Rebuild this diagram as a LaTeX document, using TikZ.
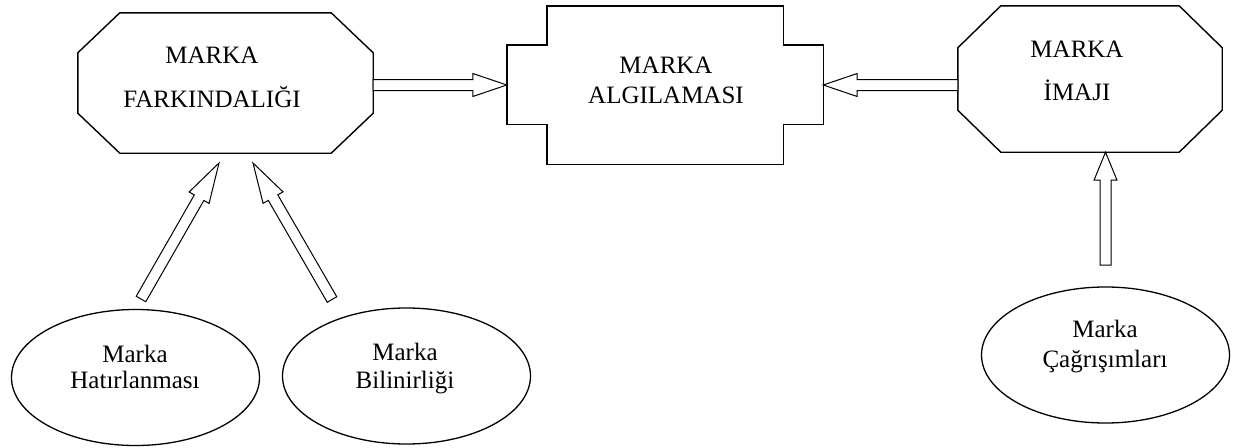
\documentclass[tikz,border=0pt]{standalone}
\usepackage{fontspec}
\setmainfont{Liberation Serif}
\usetikzlibrary{calc,shapes.geometric}

% two-line label, first baseline at the node's base anchor
\newcommand\twolines[3]{{\fontsize{25}{#1}\selectfont\setlength\tabcolsep{0pt}%
  \begin{tabular}[t]{c}#2\\#3\end{tabular}}}

% hollow block arrow from a tail coordinate to a tip coordinate
\newcommand\blockarrow[3][34]{%
  \coordinate (#2-#3-b) at ($(#3)!#1pt!(#2)$);
  \draw[arrowline]
    ($(#2)!5.5pt!90:(#3)$) -- ($(#2-#3-b)!5.5pt!-90:(#2)$)
    -- ($(#2-#3-b)!11.5pt!-90:(#2)$) -- (#3)
    -- ($(#2-#3-b)!11.5pt!90:(#2)$) -- ($(#2-#3-b)!5.5pt!90:(#2)$)
    -- ($(#2)!5.5pt!-90:(#3)$) -- cycle;}

\begin{document}
\begin{tikzpicture}[x=1pt,y=-1pt,
  frame/.style={draw=none,rectangle,inner sep=0pt},
  outline/.style={draw=black,line width=1.4pt,line join=miter},
  arrowline/.style={draw=black,fill=white,line width=1pt,line join=miter},
  oval/.style={draw=black,line width=1.3pt,ellipse,inner sep=0pt,
    minimum width=248pt,minimum height=136pt},
  label/.style={anchor=base,inner sep=0pt}]
\useasboundingbox (0,0) rectangle (1233,447);

% top row frames
\node[frame,minimum width=295pt,minimum height=140pt] (fark) at (225.5,83) {};
\node[frame,minimum width=316pt,minimum height=158pt] (algi) at (665,85) {};
\node[frame,minimum width=264pt,minimum height=146pt] (imaj) at (1090,79) {};

% octagon: brand awareness
\draw[outline]
  ([xshift=42pt]fark.north west) -- ([xshift=-42pt]fark.north east)
  -- ([yshift=-40pt]fark.north east) -- ([yshift=40pt]fark.south east)
  -- ([xshift=-42pt]fark.south east) -- ([xshift=42pt]fark.south west)
  -- ([yshift=40pt]fark.south west) -- ([yshift=-40pt]fark.north west) -- cycle;

% notched box: brand perception
\draw[outline]
  ([xshift=40pt]algi.north west) -- ([xshift=-40pt]algi.north east)
  -- ([xshift=-40pt,yshift=-39pt]algi.north east) -- ([yshift=-39pt]algi.north east)
  -- ([yshift=40pt]algi.south east) -- ([xshift=-40pt,yshift=40pt]algi.south east)
  -- ([xshift=-40pt]algi.south east) -- ([xshift=40pt]algi.south west)
  -- ([xshift=40pt,yshift=40pt]algi.south west) -- ([yshift=40pt]algi.south west)
  -- ([yshift=-39pt]algi.north west) -- ([xshift=40pt,yshift=-39pt]algi.north west)
  -- cycle;

% octagon: brand image
\draw[outline]
  ([xshift=43pt]imaj.north west) -- ([xshift=-43pt]imaj.north east)
  -- ([yshift=-42pt]imaj.north east) -- ([yshift=42pt]imaj.south east)
  -- ([xshift=-43pt]imaj.south east) -- ([xshift=43pt]imaj.south west)
  -- ([yshift=42pt]imaj.south west) -- ([yshift=-42pt]imaj.north west) -- cycle;

% labels of the top row
\node[label] (fark-t) at (212,63) {\twolines{44}{MARKA}{FARKINDALIĞI}};
\node[label] (algi-t) at (666,73) {\twolines{30}{MARKA}{ALGILAMASI}};
\node[label] (imaj-t) at (1077,57) {\twolines{43}{MARKA}{İMAJI}};

% bottom ovals
\node[oval] (hat) at (135.5,377.5) {};
\node[oval] (bil) at (406.5,376) {};
\node[oval] (cag) at (1105.5,355) {};
\node[label] (hat-t) at (135,362) {\twolines{26}{Marka}{Hatırlanması}};
\node[label] (bil-t) at (405,360) {\twolines{28}{Marka}{Bilinirliği}};
\node[label] (cag-t) at (1105,337) {\twolines{30}{Marka}{Çağrışımları}};

% arrow ends
\coordinate (a1s) at (fark.east |- algi.west);
\coordinate (a1e) at (algi.west);
\coordinate (a2s) at (imaj.west |- algi.east);
\coordinate (a2e) at (algi.east);
\coordinate (a3s) at (cag.north |- 0,265);
\coordinate (a3e) at (cag.north |- imaj.south);
\coordinate (a4s) at (141,299);
\coordinate (a4e) at (219,163);
\coordinate (a5s) at (332,299.5);
\coordinate (a5e) at (253,163);

\blockarrow{a1s}{a1e}
\blockarrow{a2s}{a2e}
\blockarrow[28]{a3s}{a3e}
\blockarrow[40]{a4s}{a4e}
\blockarrow[40]{a5s}{a5e}
\end{tikzpicture}
\end{document}
